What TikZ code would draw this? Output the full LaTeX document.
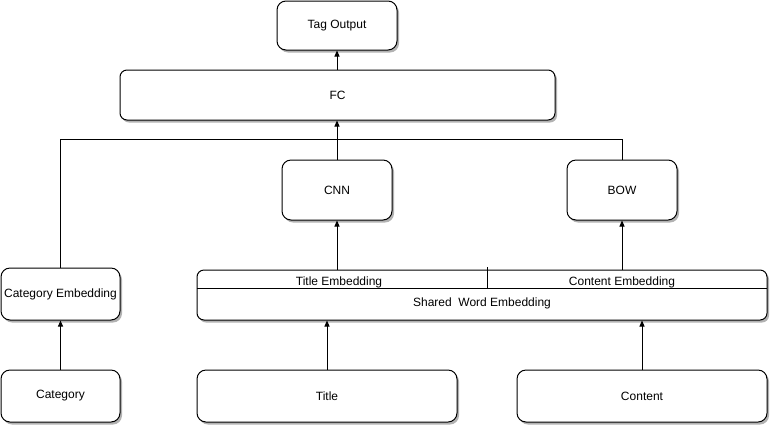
\documentclass[tikz,border=0pt]{standalone}
\usepackage{fontspec}
\setmainfont{Liberation Sans}
\usetikzlibrary{arrows.meta,shadows}
\begin{document}
\begin{tikzpicture}[x=1pt,y=-1pt,
  box/.style={draw, line width=1pt, rounded corners=9pt, fill=white,
    drop shadow={shadow xshift=2pt, shadow yshift=-2.5pt, fill=black!30, opacity=1},
    inner sep=0pt, font=\fontsize{12}{14}\selectfont},
  lbl/.style={inner sep=0pt, font=\fontsize{12}{14}\selectfont},
  arr/.style={-{Triangle[length=6pt,width=5pt]}, line width=1pt},
  conn/.style={line width=1pt}]
\useasboundingbox (0,0) rectangle (770,424);

\node[box, minimum width=120pt, minimum height=49pt] (tag) at (337,25.5) {Tag Output};
\node[box, minimum width=435pt, minimum height=50pt, rounded corners=7pt] (fc) at (337.5,95) {FC};
\node[box, minimum width=110pt, minimum height=60pt] (cnn) at (337,190) {CNN};
\node[box, minimum width=110pt, minimum height=60pt] (bow) at (622,190) {BOW};
\node[box, minimum width=119pt, minimum height=52pt] (catemb) at (60.5,294) {Category Embedding};
\node[box, minimum width=570pt, minimum height=50pt, rounded corners=7pt] (shared) at (482,295) {};
\node[lbl] (swlabel) at (482,303) {Shared\ \ Word Embedding};
\node[lbl, minimum width=290pt, minimum height=18pt] (titleemb) at (342,279) {};
\node[lbl, minimum width=280pt, minimum height=18pt] (contentemb) at (627,279) {};
\node[lbl] (titletxt) at (339,282) {Title Embedding};
\node[lbl] (contenttxt) at (622,282) {Content Embedding};
\node[box, minimum width=119pt, minimum height=52pt] (category) at (60.5,396) {Category};
\node[box, minimum width=260pt, minimum height=52pt] (title) at (327,396) {Title};
\node[box, minimum width=250pt, minimum height=52pt] (content) at (642,396) {Content};

\draw[conn] (titleemb.south west) -- (contentemb.south east);
\draw[conn] (titleemb.south east) -- ([yshift=3pt]titleemb.north east);

\draw[arr] (fc.north -| tag.south) -- (tag.south);
\draw[arr] (cnn.north) -- (cnn.north |- fc.south);
\draw[conn] (catemb.north) -- ++(0,-128) -| (bow.north);
\draw[arr] (cnn.south |- shared.north) -- (cnn.south);
\draw[arr] (bow.south |- shared.north) -- (bow.south);
\draw[arr] (catemb.south |- category.north) -- (catemb.south);
\draw[arr] (title.north) -- (title.north |- shared.south);
\draw[arr] (content.north) -- (content.north |- shared.south);
\end{tikzpicture}
\end{document}
